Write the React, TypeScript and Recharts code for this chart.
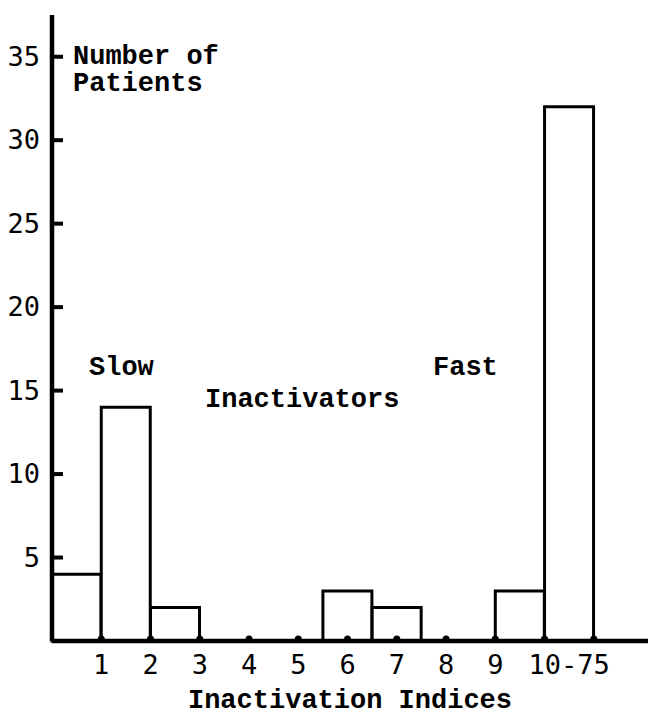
import React from 'react';
import { ComposedChart, Bar, XAxis, YAxis } from 'recharts';

// bar centres on the index axis and patient counts
const binCentres = [0.5, 1.5, 2.5, 6, 7, 9.5, 10.5];
const patientCounts = [4, 14, 2, 3, 2, 3, 32];

const yTicks = [5, 10, 15, 20, 25, 30, 35];
const xTicks = [1, 2, 3, 4, 5, 6, 7, 8, 9, 10, 10.5, 11];
const xTickLabels = ['1', '2', '3', '4', '5', '6', '7', '8', '9', '', '10-75', ''];

const annotations = [
    { text: 'Number of', x: 73, y: 64 },
    { text: 'Patients', x: 73, y: 91 },
    { text: 'Slow', x: 89, y: 375 },
    { text: 'Inactivators', x: 205, y: 407 },
    { text: 'Fast', x: 433, y: 375 },
];

const chartData = binCentres.map((x, i) => ({ x, count: patientCounts[i] }));

const textFont = '"Liberation Mono", monospace';
const digitFont = '"DejaVu Sans Mono", monospace';

const YTick = (props: any) => {
    const x = Number(props.x);
    const y = Number(props.y);
    return (
        <g>
            <line x1={x + 10} y1={y} x2={x + 23} y2={y} stroke="#000" strokeWidth={4} />
            <text x={x} y={y} dy={9} textAnchor="end" fontFamily={digitFont} fontSize={27} fill="#000">
                {props.payload.value}
            </text>
        </g>
    );
};

const XTick = (props: any) => {
    const x = Number(props.x);
    const y = Number(props.y);
    const isEdge = Number.isInteger(props.payload.value);
    return (
        <g>
            {isEdge && <circle cx={x} cy={y - 14} r={3.5} fill="#000" />}
            <text x={x} y={y} dy={21} textAnchor="middle" fontFamily={digitFont} fontSize={27} fill="#000">
                {xTickLabels[props.index]}
            </text>
        </g>
    );
};

export default function App() {
    return (
        <div style={{ position: 'absolute', left: 0, top: 0, width: 648, height: 715 }}>
            <ComposedChart
                width={648}
                height={715}
                data={chartData}
                margin={{ top: 15, right: 0, bottom: 0, left: 0 }}
                barCategoryGap={0}
            >
                <XAxis
                    dataKey="x"
                    type="number"
                    domain={[0, 12.1]}
                    ticks={xTicks}
                    interval={0}
                    height={74}
                    tickLine={false}
                    tickSize={0}
                    tickMargin={12}
                    axisLine={{ stroke: '#000', strokeWidth: 4.5 }}
                    tick={<XTick />}
                    label={{
                        value: 'Inactivation Indices',
                        position: 'insideBottom',
                        offset: 7,
                        fontFamily: textFont,
                        fontWeight: 'bold',
                        fontSize: 27,
                        fill: '#000',
                    }}
                />
                <YAxis
                    type="number"
                    domain={[0, 37.5]}
                    ticks={yTicks}
                    interval={0}
                    width={52}
                    tickLine={false}
                    tickSize={0}
                    tickMargin={12}
                    axisLine={{ stroke: '#000', strokeWidth: 4.5 }}
                    tick={<YTick />}
                />
                <Bar
                    dataKey="count"
                    fill="#fff"
                    stroke="#000"
                    strokeWidth={3}
                    isAnimationActive={false}
                />
            </ComposedChart>
            <svg width={648} height={715} style={{ position: 'absolute', left: 0, top: 0, pointerEvents: 'none' }}>
                {annotations.map((a) => (
                    <text
                        key={a.text}
                        x={a.x}
                        y={a.y}
                        fontFamily={textFont}
                        fontWeight="bold"
                        fontSize={27}
                        fill="#000"
                    >
                        {a.text}
                    </text>
                ))}
            </svg>
        </div>
    );
}
